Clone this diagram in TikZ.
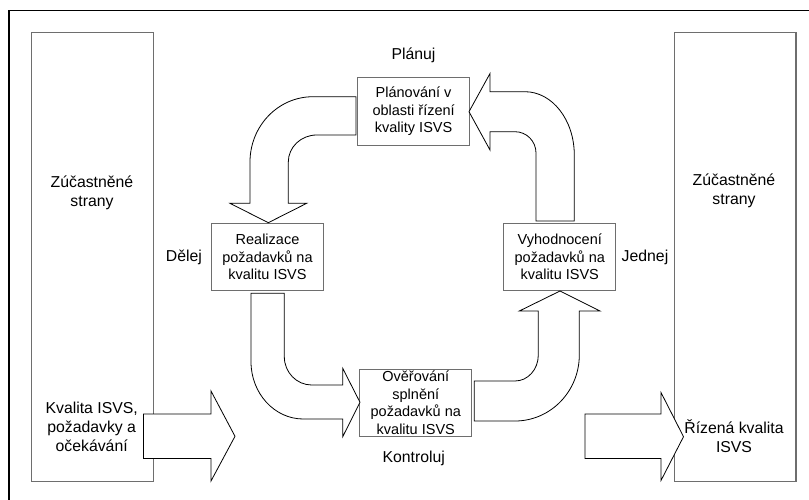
\documentclass[tikz,border=0pt]{standalone}
\usepackage{fontspec}
\setmainfont{Liberation Sans}
\definecolor{boxgray}{HTML}{6E6E6E}
\begin{document}
\begin{tikzpicture}[x=1pt,y=-1pt,
  box/.style={draw=boxgray, line width=1pt, fill=white, minimum width=112pt, minimum height=67.5pt, inner sep=0pt, align=center, font=\fontsize{14.5}{17.5}\selectfont},
  tall/.style={draw=boxgray, line width=1.2pt, minimum width=121.5pt, minimum height=449pt, inner sep=0pt},
  blockarrow/.style={draw=black, line width=0.8pt, fill=white, line join=miter},
  lbl/.style={font=\fontsize{15.8}{19}\selectfont, inner sep=0pt, align=center}]
\useasboundingbox (0,0) rectangle (809,499);
% outer frame
\draw[line width=1.3pt] (9,510) -- (9,10.5) -- (820,10.5);
% stakeholder columns
\node[tall] (lcol) at (92.5,257.2) {};
\node[tall] (rcol) at (735.2,257.2) {};
% process boxes
\node[box] (plan) at (413.6,111.4) {Plánování v\\oblasti řízení\\kvality ISVS};
\node[box] (real) at (267.5,257.2) {Realizace\\požadavků na\\kvalitu ISVS};
\node[box] (vyh) at (559.8,257.1) {Vyhodnocení\\požadavků na\\kvalitu ISVS};
\node[box] (over) at (415.8,402.8) {Ověřování\\splnění\\požadavků na\\kvalitu ISVS};
% curved block arrows
% plan -> real
\draw[blockarrow] (356,96.7) -- (313,96.7) .. controls (278.2,96.7) and (250,125.9) .. (250,162)
  -- (250,203.3) -- (230,203.3) -- (268.3,222.7) -- (306.7,203.3) -- (288.3,203.3)
  -- (288.3,162) .. controls (288.3,147.1) and (301,135) .. (316.7,135) -- (356,135) -- cycle;
% vyh -> plan
\draw[blockarrow] (536,221) -- (574.3,221) -- (574.3,155) .. controls (574.3,120) and (552.2,91.7) .. (525,91.7)
  -- (490,91.7) -- (490,73.5) -- (469,111.7) -- (490,150) -- (490,131.7) -- (515,131.7)
  .. controls (526.6,131.7) and (536,141.2) .. (536,153) -- cycle;
% real -> over
\draw[blockarrow] (251,293.3) -- (284.3,293.3) -- (284.3,356.7) .. controls (284.3,372.3) and (296.6,385) .. (311.7,385)
  -- (342.7,385) -- (342.7,368.3) -- (360,402.3) -- (342.7,436.7) -- (342.7,419) -- (303.3,419)
  .. controls (274.4,419) and (251,393.3) .. (251,361.7) -- cycle;
% over -> vyh
\draw[blockarrow] (474.3,381) -- (515,381) .. controls (527.9,381) and (538.3,369.4) .. (538.3,355)
  -- (538.3,311) -- (519.3,311) -- (560,291) -- (600,311) -- (579.3,311) -- (579.3,355)
  .. controls (579.3,391.4) and (550.5,421) .. (515,421) -- (474.3,421) -- cycle;
% straight block arrows
\draw[blockarrow] (143.4,414) -- (211,414) -- (211,391) -- (235,436.3) -- (211,481) -- (211,458.5) -- (143.4,458.5) -- cycle;
\draw[blockarrow] (585,414) -- (661,414) -- (661,392.5) -- (683.5,436.7) -- (661,480.5) -- (661,458.5) -- (585,458.5) -- cycle;
% column texts
\node[lbl] (lstake) at (92,192.5) {Zúčastněné\\strany};
\node[lbl] (lin) at (91.7,427) {Kvalita ISVS,\\požadavky a\\očekávání};
\node[lbl] (rstake) at (734,191) {Zúčastněné\\strany};
\node[lbl] (rout) at (734,436.5) {Řízená kvalita\\ISVS};
% phase labels
\node[lbl] (lplan) at (413.5,55) {Plánuj};
\node[lbl] (ldo) at (184,257) {Dělej};
\node[lbl] (lact) at (645,257) {Jednej};
\node[lbl] (lcheck) at (413.7,458.3) {Kontroluj};
\end{tikzpicture}
\end{document}
